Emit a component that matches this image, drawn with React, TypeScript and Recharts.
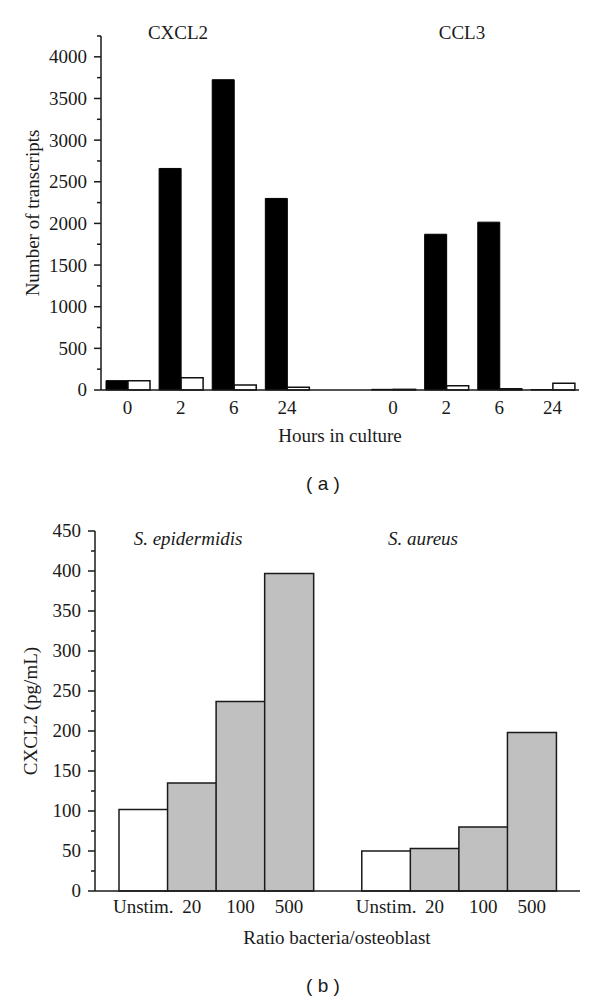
import React from 'react';
import { BarChart, Bar, XAxis, YAxis, Cell } from 'recharts';

// panel (a): transcripts per time point
const hours = ['0', '2', '6', '24'];
const cxcl2Dark = [112, 2660, 3725, 2300];
const cxcl2Open = [110, 148, 60, 32];
const ccl3Dark = [8, 1870, 2015, 6];
const ccl3Open = [8, 52, 16, 80];
const transcriptTicks = [0, 250, 500, 750, 1000, 1250, 1500, 1750, 2000, 2250, 2500, 2750, 3000, 3250, 3500, 3750, 4000, 4250];

// panel (b): CXCL2 protein by bacteria ratio
const ratios = ['Unstim.', '20', '100', '500'];
const epidermidis = [102, 135, 237, 397];
const aureus = [50, 53, 80, 198];
const proteinTicks = [0, 25, 50, 75, 100, 125, 150, 175, 200, 225, 250, 275, 300, 325, 350, 375, 400, 425, 450];

const SERIF = '"Liberation Serif", "DejaVu Serif", serif';
const INK = '#1a1a1a';
const FS = 19;

const topData = [
  ...hours.map((h, i) => ({ key: `cxcl2-${h}`, label: h, dark: cxcl2Dark[i], open: cxcl2Open[i] })),
  { key: 'gap', label: '' },
  ...hours.map((h, i) => ({ key: `ccl3-${h}`, label: h, dark: ccl3Dark[i], open: ccl3Open[i] })),
];

const bottomData = [
  ...ratios.map((r, i) => ({ key: `epi-${r}`, label: r, value: epidermidis[i], unstim: i === 0 })),
  { key: 'gap', label: '', unstim: false },
  ...ratios.map((r, i) => ({ key: `aur-${r}`, label: r, value: aureus[i], unstim: i === 0 })),
];

const labelOf = (rows: { key: string; label: string }[]) => (v: string) =>
  rows.find((r) => r.key === v)?.label ?? '';

// y tick with short minor marks, labels only on major steps
const YTick = (props: any) => {
  const { x, y, payload, majorStep } = props;
  const major = payload.value % majorStep === 0;
  return (
    <g>
      <line x1={x - (major ? 7 : 4)} x2={x} y1={y} y2={y} stroke={INK} strokeWidth={1.5} />
      {major && (
        <text x={x - 14} y={y} dy="0.34em" textAnchor="end" fontFamily={SERIF} fontSize={FS} fill={INK}>
          {payload.value}
        </text>
      )}
    </g>
  );
};

const Txt = ({ x, y, children, style }: { x: number; y: number; children: React.ReactNode; style?: React.CSSProperties }) => (
  <div
    style={{
      position: 'absolute', left: x, top: y, transform: 'translate(-50%, -50%)',
      whiteSpace: 'nowrap', lineHeight: 1, fontFamily: SERIF, fontSize: FS, color: INK, ...style,
    }}
  >
    {children}
  </div>
);

const axisStyle = { stroke: INK, strokeWidth: 1.5 };

export default function App() {
  return (
    <div style={{ position: 'absolute', left: 0, top: 0, width: 600, height: 1000, background: '#fff' }}>
      {/* (a) */}
      <div style={{ position: 'absolute', left: 0, top: 0 }}>
        <BarChart width={600} height={450} data={topData} margin={{ top: 36, right: 21, bottom: 30, left: 0 }} barGap={0} barCategoryGap={5}>
          <XAxis
            dataKey="key" interval={0} tickLine={false} tickSize={0} tickMargin={11} height={30}
            axisLine={axisStyle} tickFormatter={labelOf(topData)}
            tick={{ fontFamily: SERIF, fontSize: FS, fill: INK }}
          />
          <YAxis
            width={101} domain={[0, 4250]} ticks={transcriptTicks} interval={0}
            tickLine={false} tickSize={0} tickMargin={0} axisLine={axisStyle}
            tick={<YTick majorStep={500} />}
          />
          <Bar dataKey="dark" fill="#000" stroke="#000" strokeWidth={1} isAnimationActive={false} />
          <Bar dataKey="open" fill="#fff" stroke="#111" strokeWidth={1.5} isAnimationActive={false} />
        </BarChart>
      </div>
      <Txt x={178} y={32}>CXCL2</Txt>
      <Txt x={462} y={32}>CCL3</Txt>
      <Txt x={32} y={213} style={{ transform: 'translate(-50%, -50%) rotate(-90deg)' }}>Number of transcripts</Txt>
      <Txt x={340} y={435}>Hours in culture</Txt>
      <Txt x={323} y={483} style={{ fontFamily: '"Liberation Sans", Arial, sans-serif', fontSize: 19 }}>( a )</Txt>

      {/* (b) */}
      <div style={{ position: 'absolute', left: 0, top: 450 }}>
        <BarChart width={600} height={500} data={bottomData} margin={{ top: 81, right: 20, bottom: 29, left: 0 }} barGap={0} barCategoryGap={0}>
          <XAxis
            dataKey="key" interval={0} tickLine={false} tickSize={0} tickMargin={9} height={30}
            padding={{ left: 24, right: 24 }}
            axisLine={axisStyle} tickFormatter={labelOf(bottomData)}
            tick={{ fontFamily: SERIF, fontSize: FS, fill: INK }}
          />
          <YAxis
            width={95} domain={[0, 450]} ticks={proteinTicks} interval={0}
            tickLine={false} tickSize={0} tickMargin={0} axisLine={axisStyle}
            tick={<YTick majorStep={50} />}
          />
          <Bar dataKey="value" stroke={INK} strokeWidth={1.5} isAnimationActive={false}>
            {bottomData.map((d) => (
              <Cell key={d.key} fill={d.unstim ? '#fff' : '#c0c0c0'} />
            ))}
          </Bar>
        </BarChart>
      </div>
      <Txt x={188} y={538} style={{ fontStyle: 'italic' }}>S. epidermidis</Txt>
      <Txt x={423} y={538} style={{ fontStyle: 'italic' }}>S. aureus</Txt>
      <Txt x={30} y={711} style={{ transform: 'translate(-50%, -50%) rotate(-90deg)' }}>CXCL2 (pg/mL)</Txt>
      <Txt x={337} y={937}>Ratio bacteria/osteoblast</Txt>
      <Txt x={323} y={985} style={{ fontFamily: '"Liberation Sans", Arial, sans-serif', fontSize: 19 }}>( b )</Txt>
    </div>
  );
}
